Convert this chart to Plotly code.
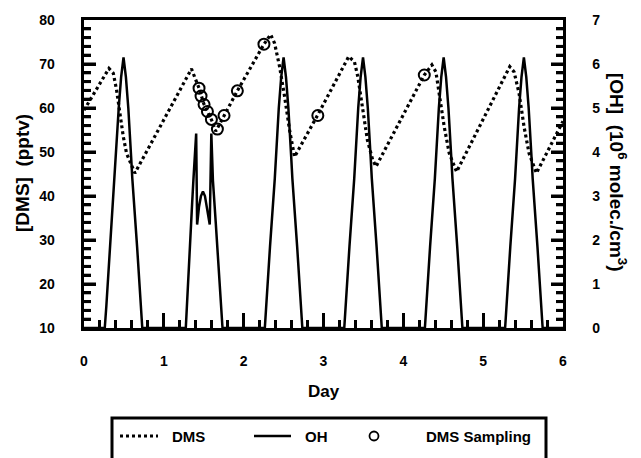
import plotly.graph_objects as go

# ---------------- data ----------------
dms_day = [0.0, 0.3125, 0.367, 0.408, 0.45, 0.492, 0.533, 0.596, 0.6375,
           1.346, 1.39, 1.441, 1.5, 1.55, 1.6, 1.65,
           1.754, 1.921, 2.254, 2.3375, 2.3875, 2.45, 2.5125, 2.575, 2.6375,
           2.93, 3.316, 3.3875, 3.43, 3.49, 3.55, 3.616, 3.658,
           4.2625, 4.358, 4.408, 4.45, 4.5125, 4.575, 4.667,
           5.333, 5.3875, 5.45, 5.5125, 5.575, 5.667, 6.0]
dms_pptv = [59.5, 69.0, 67.9, 64.1, 58.8, 53.5, 49.7, 46.7, 45.2,
            68.9, 67.0, 64.5, 61.0, 59.0, 57.2, 54.7,
            58.3, 63.9, 74.5, 76.7, 74.7, 69.4, 62.6, 55.0, 48.9,
            58.5, 71.7, 70.5, 67.1, 59.5, 52.7, 48.2, 46.7,
            67.5, 69.8, 68.2, 63.3, 55.7, 49.7, 45.5,
            69.4, 68.2, 63.3, 55.7, 49.7, 45.2, 57.0]

sample_day = [1.441, 1.466, 1.504, 1.546, 1.596, 1.671, 1.754, 1.921, 2.254, 2.929, 4.2625]
sample_pptv = [64.5, 62.7, 60.8, 59.2, 57.4, 55.2, 58.3, 63.9, 74.5, 58.3, 67.5]

oh_day_1 = [0.0, 0.26, 0.28, 0.325, 0.385, 0.40, 0.435, 0.465, 0.495, 0.525, 0.555, 0.59, 0.605, 0.665, 0.71, 0.73]
oh_val_1 = [0.0, 0.0, 0.5, 1.85, 3.4, 3.9, 5.0, 5.7, 6.15, 5.7, 5.0, 3.9, 3.4, 1.85, 0.5, 0.0]
oh_day_2 = [1.275, 1.30, 1.33, 1.355, 1.37, 1.405, 1.417, 1.44, 1.465, 1.49, 1.515, 1.54, 1.575, 1.595, 1.615, 1.65, 1.69, 1.715, 1.735]
oh_val_2 = [0.0, 0.8, 1.9, 2.85, 3.35, 4.42, 2.35, 2.75, 3.0, 3.1, 3.0, 2.75, 2.35, 4.42, 3.35, 2.4, 1.2, 0.5, 0.0]
oh_day_3 = [2.265, 2.285, 2.33, 2.39, 2.405, 2.44, 2.47, 2.5, 2.53, 2.56, 2.595, 2.61, 2.67, 2.715, 2.735]
oh_val_3 = [0.0, 0.5, 1.85, 3.4, 3.9, 5.0, 5.7, 6.15, 5.7, 5.0, 3.9, 3.4, 1.85, 0.5, 0.0]
oh_day_4 = [3.26, 3.28, 3.325, 3.385, 3.40, 3.435, 3.465, 3.495, 3.525, 3.555, 3.59, 3.605, 3.665, 3.71, 3.73]
oh_val_4 = [0.0, 0.5, 1.85, 3.4, 3.9, 5.0, 5.7, 6.15, 5.7, 5.0, 3.9, 3.4, 1.85, 0.5, 0.0]
oh_day_5 = [4.27, 4.29, 4.335, 4.395, 4.41, 4.445, 4.475, 4.505, 4.535, 4.565, 4.60, 4.615, 4.675, 4.72, 4.74]
oh_val_5 = [0.0, 0.5, 1.85, 3.4, 3.9, 5.0, 5.7, 6.15, 5.7, 5.0, 3.9, 3.4, 1.85, 0.5, 0.0]
oh_day_6 = [5.275, 5.295, 5.34, 5.40, 5.415, 5.45, 5.48, 5.51, 5.54, 5.57, 5.605, 5.62, 5.68, 5.725, 5.745, 6.0]
oh_val_6 = [0.0, 0.5, 1.85, 3.4, 3.9, 5.0, 5.7, 6.15, 5.7, 5.0, 3.9, 3.4, 1.85, 0.5, 0.0, 0.0]

oh_day = oh_day_1 + oh_day_2 + oh_day_3 + oh_day_4 + oh_day_5 + oh_day_6
oh_val = oh_val_1 + oh_val_2 + oh_val_3 + oh_val_4 + oh_val_5 + oh_val_6

x_ticks = [0, 1, 2, 3, 4, 5, 6]
dms_ticks = [10, 20, 30, 40, 50, 60, 70, 80]
oh_ticks = [0, 1, 2, 3, 4, 5, 6, 7]

legend_labels = ["DMS", "OH", "DMS Sampling"]

# ---------------- layout helpers ----------------
W, H = 641, 458
L, R, T, B = 84, 563, 20, 328
PW, PH = R - L, B - T
DMS_RANGE = [10, 80]
OH_RANGE = [0, 7]

def px(xp):
    return (xp - L) / PW

def py(yp):
    return (B - yp) / PH

FONT = "Liberation Sans, Arial, Helvetica, sans-serif"
NB = "\u00a0"
TW = 3

fig = go.Figure()

fig.add_trace(go.Scatter(x=oh_day, y=oh_val, mode="lines", yaxis="y2",
                         line=dict(color="black", width=2.5), showlegend=False))
fig.add_trace(go.Scatter(x=dms_day, y=dms_pptv, mode="lines",
                         line=dict(color="black", width=3.2, dash="3px,3px"),
                         showlegend=False))
fig.add_trace(go.Scatter(x=sample_day, y=sample_pptv, mode="markers",
                         marker=dict(symbol="circle-open", size=11, color="black",
                                     line=dict(width=2, color="black")),
                         showlegend=False))

tickfont = dict(family=FONT, size=14, color="black", weight="bold")

fig.update_layout(
    width=W, height=H,
    margin=dict(l=L, r=W - R, t=T, b=H - B),
    paper_bgcolor="white", plot_bgcolor="white",
    showlegend=False,
    xaxis=dict(range=[0, 6], tickmode="array", tickvals=x_ticks,
               ticktext=[str(v) for v in x_ticks],
               ticks="inside", ticklen=15, tickwidth=TW, tickcolor="black",
               minor=dict(tickmode="linear", tick0=0, dtick=0.2, ticks="inside",
                          ticklen=8, tickwidth=TW, tickcolor="black"),
               showline=True, linewidth=3, linecolor="black", mirror=True,
               showgrid=False, zeroline=False, tickfont=tickfont, ticklabelstandoff=18),
    yaxis=dict(range=DMS_RANGE, tickmode="array", tickvals=dms_ticks,
               ticktext=[str(v) + NB * 6 for v in dms_ticks],
               ticks="inside", ticklen=12, tickwidth=TW, tickcolor="black",
               minor=dict(tickmode="linear", tick0=10, dtick=2, ticks="inside",
                          ticklen=7, tickwidth=TW, tickcolor="black"),
               showline=True, linewidth=3, linecolor="black",
               showgrid=False, zeroline=False, tickfont=tickfont),
    yaxis2=dict(range=OH_RANGE, tickmode="array", tickvals=oh_ticks,
                ticktext=[NB * 6 + str(v) for v in oh_ticks],
                overlaying="y", side="right",
                ticks="inside", ticklen=12, tickwidth=TW, tickcolor="black",
                minor=dict(tickmode="linear", tick0=0, dtick=0.2, ticks="inside",
                           ticklen=7, tickwidth=TW, tickcolor="black"),
                showline=True, linewidth=3, linecolor="black",
                showgrid=False, zeroline=False, tickfont=tickfont),
)

# extra inward tick strokes on the two vertical axes (same positions as the axis ticks)
shapes = []
def frac(v, rng):
    return (v - rng[0]) / (rng[1] - rng[0])

for i in range(1, 35):
    f = frac(DMS_RANGE[0] + i * 2, DMS_RANGE)
    ln = (12 if i % 5 == 0 else 7) / PW
    shapes.append(dict(type="line", xref="paper", yref="paper", x0=0, x1=ln, y0=f, y1=f,
                       line=dict(color="black", width=TW)))
    shapes.append(dict(type="line", xref="paper", yref="paper", x0=1 - ln, x1=1, y0=f, y1=f,
                       line=dict(color="black", width=TW)))

title_font = dict(family=FONT, size=19, color="black", weight="bold")
annotations = [
    dict(text="[DMS]  (pptv)", x=px(22), y=py(173), xref="paper", yref="paper",
         textangle=-90, showarrow=False, font=title_font, xanchor="center", yanchor="middle"),
    dict(text="[OH]  (10<sup>6</sup> molec./cm<sup>3</sup>)", x=px(618), y=py(172),
         xref="paper", yref="paper", textangle=90, showarrow=False, font=title_font,
         xanchor="center", yanchor="middle"),
    dict(text="Day", x=px(324), y=py(391), xref="paper", yref="paper", showarrow=False,
         font=dict(family=FONT, size=17, color="black", weight="bold"),
         xanchor="center", yanchor="middle"),
]
leg_font = dict(family=FONT, size=15, color="black", weight="bold")
for lab, xl in zip(legend_labels, [170, 303, 424]):
    annotations.append(dict(text=lab, x=px(xl), y=py(436), xref="paper", yref="paper",
                            showarrow=False, font=leg_font, xanchor="left", yanchor="middle"))
fig.update_layout(annotations=annotations)

shapes += [
    dict(type="rect", xref="paper", yref="paper", x0=px(112), x1=px(546), y0=py(418), y1=py(475),
         line=dict(color="black", width=3), fillcolor="rgba(0,0,0,0)"),
    dict(type="line", xref="paper", yref="paper", x0=px(120), x1=px(158), y0=py(436), y1=py(436),
         line=dict(color="black", width=3, dash="3px,3px")),
    dict(type="line", xref="paper", yref="paper", x0=px(254), x1=px(291), y0=py(436), y1=py(436),
         line=dict(color="black", width=2.5)),
    dict(type="circle", xref="paper", yref="paper", x0=px(369.5), x1=px(378.5), y0=py(431.5), y1=py(440.5),
         line=dict(color="black", width=1.8)),
]
fig.update_layout(shapes=shapes)

fig.write_html("out.html")
